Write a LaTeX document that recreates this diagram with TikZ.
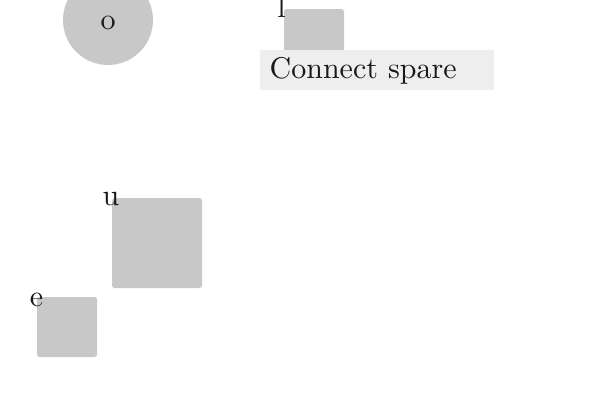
\documentclass[tikz,border=0pt]{standalone}
\usepackage{fontspec}
\setmainfont{lmroman10-regular}[Extension=.otf]
\begin{document}
\begin{tikzpicture}[x=1pt,y=-1pt,
  shapefill/.style={fill=shapegray,draw=none},
  sq/.style={shapefill,rounded corners=2.5pt},
  lbl/.style={font=\fontsize{30}{36}\selectfont,inner sep=0pt,anchor=base,text=black!90}]
\definecolor{shapegray}{HTML}{C8C8C8}
\definecolor{boxgray}{HTML}{EEEEEE}
\useasboundingbox (0,0) rectangle (600,400);
% circle o
\fill[shapegray] (108,20) circle (45);
\coordinate (oc) at (108,29.3);
\node[lbl] (o) at (oc) {o};
% square l
\fill[sq] (284,9) rectangle (344,52);
\node[lbl] (l) at (281.5,17.5) {l};
% Connect spare label box
\fill[boxgray] (260,50) rectangle (494,90);
\node[lbl,anchor=base west] (cs) at (269.5,78.5) {Connect spare};
% square u
\fill[sq] (112,198) rectangle (202,288);
\node[lbl] (u) at (111,205.5) {u};
% square e
\fill[sq] (37,297) rectangle (97,357);
\node[lbl] (e) at (36.5,306) {e};
\end{tikzpicture}
\end{document}
